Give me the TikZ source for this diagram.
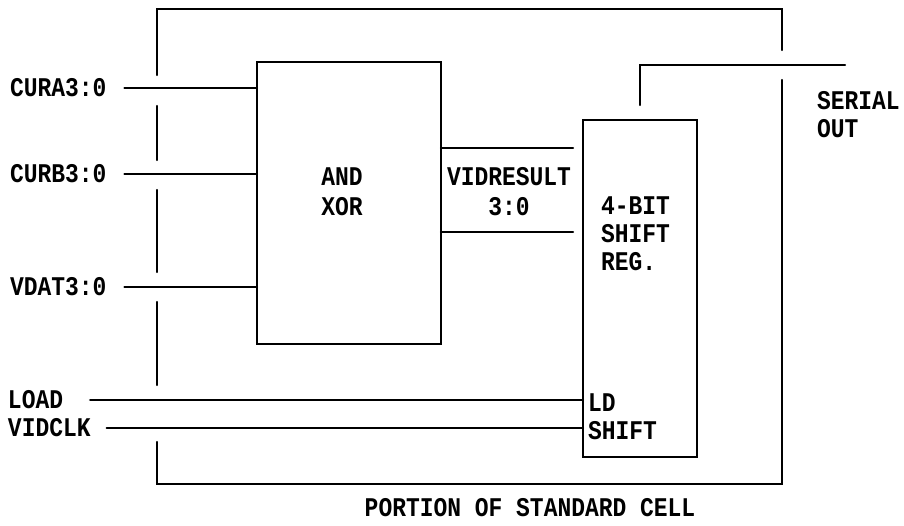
\documentclass[tikz,border=0pt]{standalone}
\usepackage{fontspec}
\newfontfamily\plt[FakeStretch=0.85,UprightFont=* Bold]{Liberation Mono}
\begin{document}
\begin{tikzpicture}[x=1pt,y=-1pt,
  wire/.style={line width=2.2pt,line cap=round},
  blk/.style={draw,line width=2.2pt,inner sep=0,outer sep=0},
  lbl/.style={inner sep=0,outer sep=0,font={\plt\fontsize{27pt}{28pt}\selectfont}},
  ]
\useasboundingbox (0,0) rectangle (904,525);
% blocks
\node[blk,minimum width=184pt,minimum height=282pt] (andbox) at (349,203) {};
\node[blk,minimum width=114pt,minimum height=337pt] (shift) at (640,288.5) {};
% block texts
\node[lbl,align=center] (andtxt) at (342,192) {AND\\[2pt]XOR};
\node[lbl,align=left,anchor=north west] (srtxt) at (601,197) {4-BIT\\SHIFT\\REG.};
\node[lbl,align=left,anchor=north west] (ldtxt) at (588,394) {LD\\SHIFT};
\node[lbl,align=center] (vrtxt) at (509,192) {VIDRESULT\\[2pt]3:0};
% input labels
\node[lbl,anchor=west] (cura) at (10,88) {CURA3:0};
\node[lbl,anchor=west] (curb) at (10,174) {CURB3:0};
\node[lbl,anchor=west] (vdat) at (10,287) {VDAT3:0};
\node[lbl,anchor=west] (load) at (8,400) {LOAD};
\node[lbl,anchor=west] (vclk) at (8,428) {VIDCLK};
% output
\node[lbl,align=left,anchor=north west] (sout) at (817,91) {SERIAL\\OUT};
\node[lbl] (title) at (530,508) {PORTION OF STANDARD CELL};
% cell outline (broken where signals cross)
\draw[wire] (157,75) -- (157,9) -- (782,9) -- (782,50);
\draw[wire] (157,106) -- (157,160);
\draw[wire] (157,190) -- (157,272);
\draw[wire] (157,302) -- (157,385);
\draw[wire] (157,442) -- (157,484) -- (782,484) -- (782,80);
% input wires
\draw[wire] ([xshift=18pt]cura.east) -- (cura.east -| andbox.west);
\draw[wire] ([xshift=18pt]curb.east) -- (curb.east -| andbox.west);
\draw[wire] ([xshift=18pt]vdat.east) -- (vdat.east -| andbox.west);
\draw[wire] ([xshift=27pt]load.east) -- (load.east -| shift.west);
\draw[wire] ([xshift=16pt]vclk.east) -- (vclk.east -| shift.west);
% VIDRESULT bus
\coordinate (vr1) at (573,148);
\coordinate (vr2) at (573,232);
\draw[wire] (vr1 -| andbox.east) -- (vr1);
\draw[wire] (vr2 -| andbox.east) -- (vr2);
% serial out
\coordinate (so) at (845,65);
\draw[wire] ([yshift=15pt]shift.north) -- (so -| shift.north) -- (so);
\end{tikzpicture}
\end{document}
